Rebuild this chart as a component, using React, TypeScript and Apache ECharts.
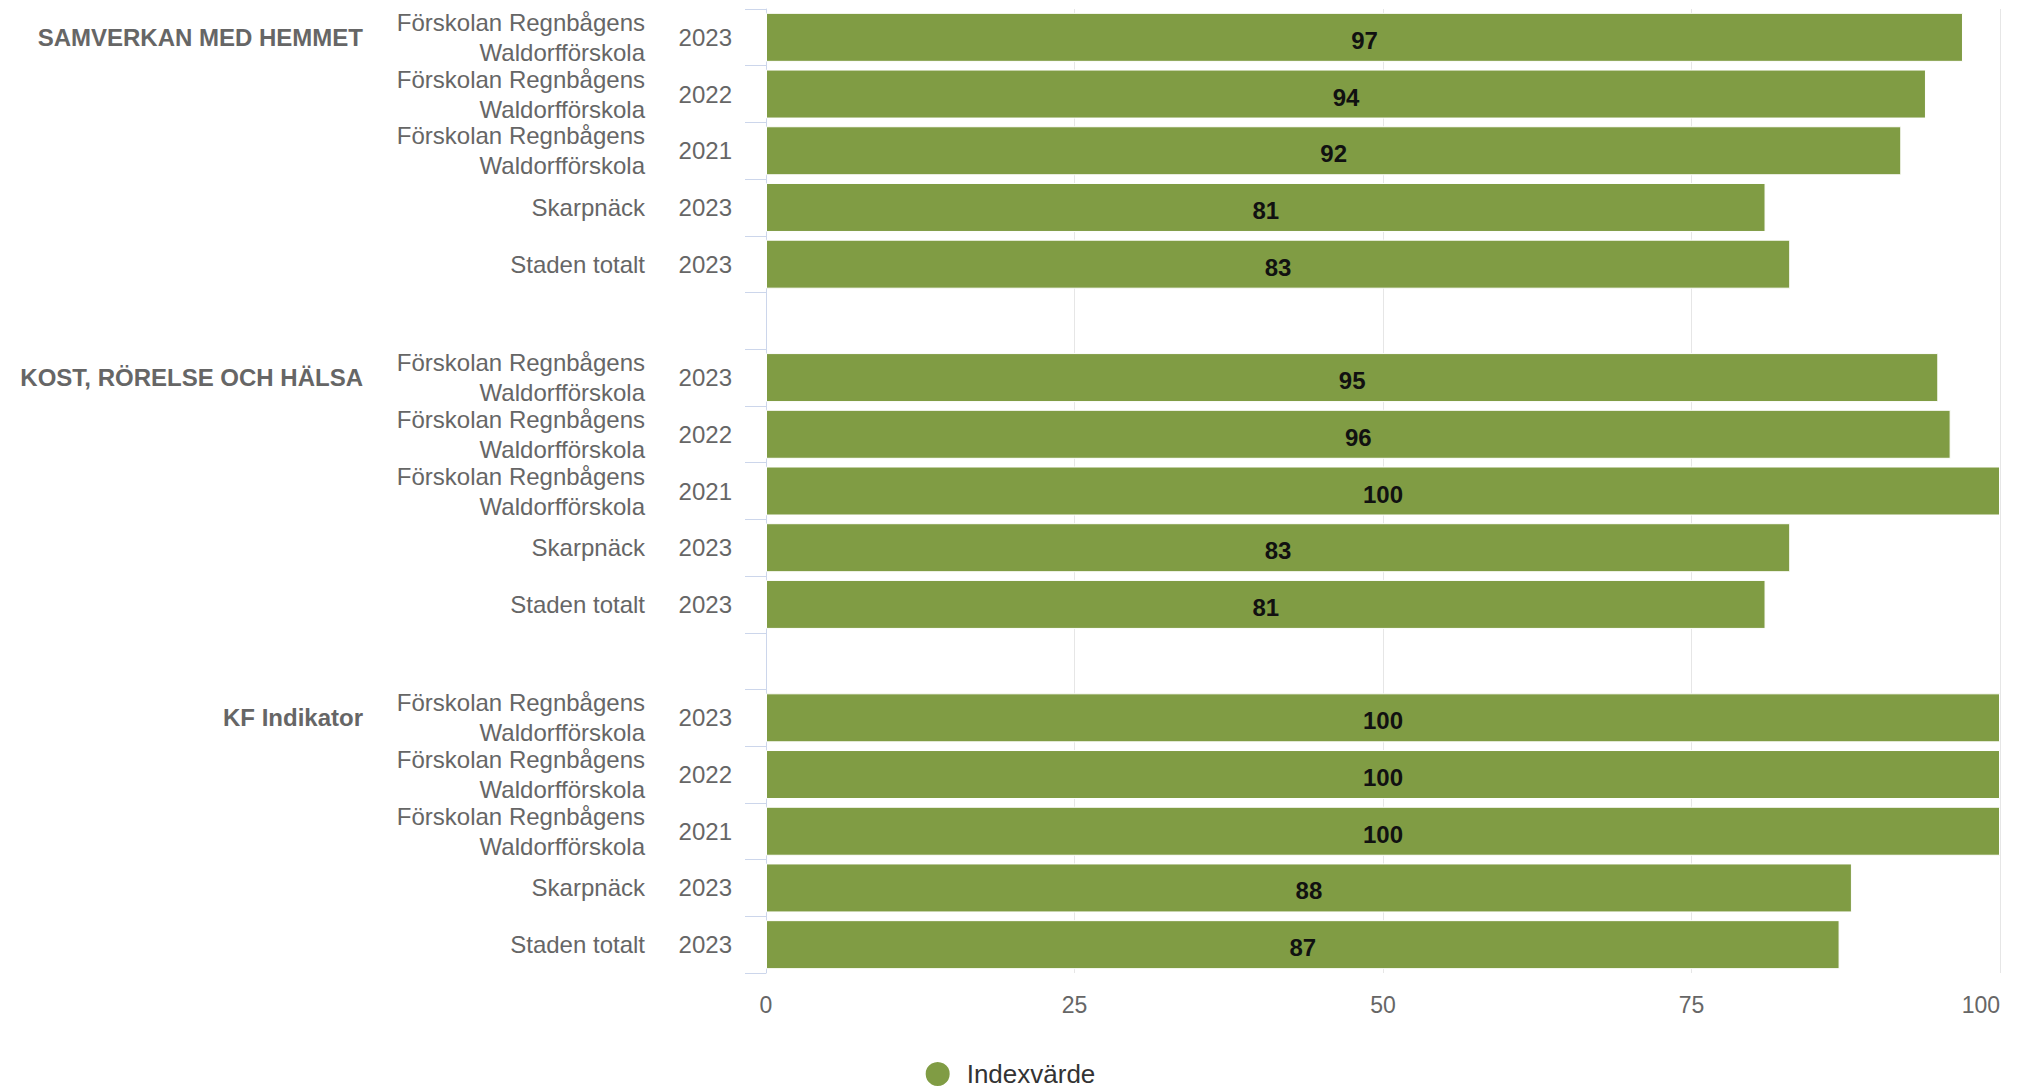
import React, { useEffect, useRef } from "react";
import * as echarts from "echarts";

const groups = ["SAMVERKAN MED HEMMET", "KOST, RÖRELSE OCH HÄLSA", "KF Indikator"];
const units = [
  "Förskolan Regnbågens\nWaldorfförskola",
  "Förskolan Regnbågens\nWaldorfförskola",
  "Förskolan Regnbågens\nWaldorfförskola",
  "Skarpnäck",
  "Staden totalt",
];
const years = ["2023", "2022", "2021", "2023", "2023"];
const valuesSamverkan = [97, 94, 92, 81, 83];
const valuesKost = [95, 96, 100, 83, 81];
const valuesKF = [100, 100, 100, 88, 87];
const xTicks = [0, 25, 50, 75, 100];
const seriesName = "Indexvärde";

const groupValues = [valuesSamverkan, valuesKost, valuesKF];

type Row = { group: string; unit: string; year: string; value: number | null };
const rows: Row[] = [];
groupValues.forEach((vals, gi) => {
  vals.forEach((v, i) => {
    rows.push({ group: i === 0 ? groups[gi] : "", unit: units[i], year: years[i], value: v });
  });
  if (gi < groupValues.length - 1) rows.push({ group: "", unit: "", year: "", value: null });
});

const FONT = "'Liberation Sans', Arial, sans-serif";
const GREEN = "#809c44";

export default function App() {
  const ref = useRef<HTMLDivElement>(null);
  useEffect(() => {
    if (!ref.current) return;
    const chart = echarts.init(ref.current, undefined, { renderer: "svg" });
    const cats = rows.map((_, i) => "r" + i);
    const baseY = {
      type: "category" as const,
      data: cats,
      inverse: true,
      position: "left" as const,
      offset: 0,
      axisLine: { show: false },
      axisTick: { show: false },
      splitLine: { show: false },
    };
    chart.setOption({
      animation: false,
      textStyle: { fontFamily: FONT },
      grid: { left: 766, right: 19, top: 9, bottom: 118, containLabel: false },
      legend: {
        data: [seriesName],
        left: "center",
        top: 1060,
        padding: 0,
        icon: "circle",
        itemWidth: 26,
        itemHeight: 26,
        textStyle: { fontSize: 26, color: "#333333", fontFamily: FONT, padding: [0, 0, 0, 11] },
      },
      xAxis: {
        type: "value",
        min: 0,
        max: 100,
        interval: 25,
        axisLine: { show: false },
        axisTick: { show: false },
        splitLine: { show: true, lineStyle: { color: "#e6e6e6", width: 1 } },
        axisLabel: {
          fontSize: 23,
          color: "#666666",
          margin: 20,
          alignMaxLabel: "right",
          fontFamily: FONT,
          formatter: (v: number) => (xTicks.includes(v) ? String(v) : ""),
        },
      },
      yAxis: [
        {
          ...baseY,
          axisLine: { show: true, lineStyle: { color: "#ccd6eb", width: 1 } },
          axisTick: { show: true, length: 21, lineStyle: { color: "#ccd6eb", width: 1 } },
          axisLabel: {
            interval: 0,
            margin: 34,
            fontSize: 24,
            color: "#666666",
            fontFamily: FONT,
            formatter: (_: string, i: number) => rows[i].year,
          },
        },
        {
          ...baseY,
          axisLabel: {
            interval: 0,
            margin: 121,
            fontSize: 24,
            lineHeight: 30,
            color: "#666666",
            align: "right",
            fontFamily: FONT,
            formatter: (_: string, i: number) => rows[i].unit,
          },
        },
        {
          ...baseY,
          axisLabel: {
            interval: 0,
            margin: 403,
            fontSize: 24,
            fontWeight: "bold",
            color: "#666666",
            fontFamily: FONT,
            formatter: (_: string, i: number) => rows[i].group,
          },
        },
      ],
      series: [
        {
          name: seriesName,
          type: "bar",
          yAxisIndex: 0,
          barWidth: 49,
          data: rows.map((r) => r.value),
          itemStyle: { color: GREEN, borderColor: "#ffffff", borderWidth: 1 },
          label: {
            show: true,
            position: "inside",
            color: "#111111",
            fontSize: 24,
            fontWeight: "bold",
            fontFamily: FONT,
            offset: [0, 3],
          },
        },
      ],
    });
    return () => chart.dispose();
  }, []);
  return (
    <div
      ref={ref}
      style={{ position: "fixed", left: 0, top: 0, width: 2019, height: 1091, background: "#ffffff" }}
    />
  );
}
